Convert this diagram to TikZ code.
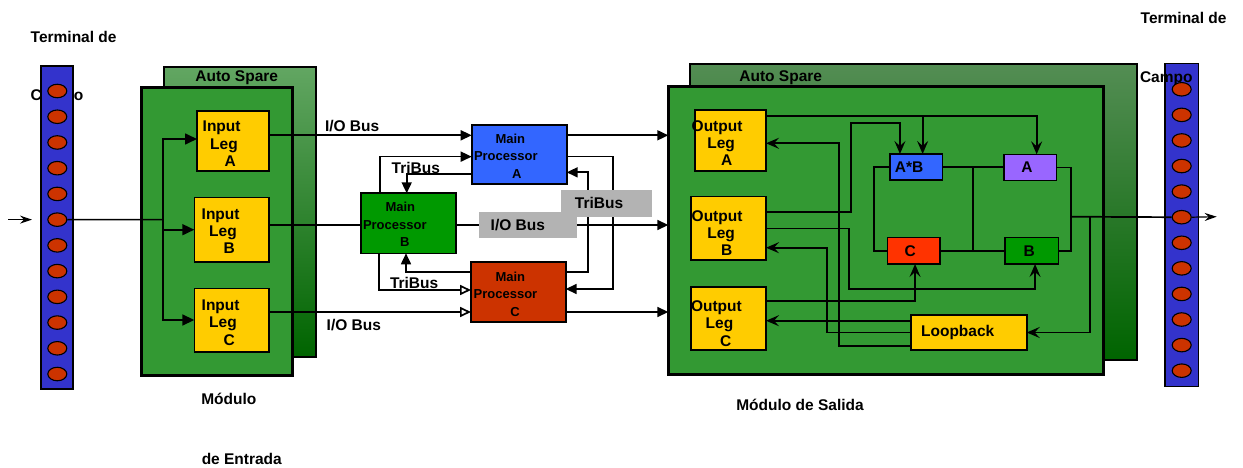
\documentclass[tikz,border=0pt]{standalone}
\usepackage{fontspec}
\setmainfont{Liberation Sans}
\usetikzlibrary{arrows.meta,calc,shapes.geometric}

\definecolor{stripblue}{HTML}{3333CC}
\definecolor{pin}{HTML}{CC3300}
\definecolor{modgreen}{HTML}{339933}
\definecolor{sparetop}{HTML}{62A662}
\definecolor{sparebot}{HTML}{006400}
\definecolor{legyellow}{HTML}{FFCC00}
\definecolor{procblue}{HTML}{3366FF}
\definecolor{procgreen}{HTML}{009900}
\definecolor{procred}{HTML}{CC3300}
\definecolor{gatepurple}{HTML}{9966FF}
\definecolor{gatered}{HTML}{FF3300}
\definecolor{labelgray}{HTML}{B3B3B3}

\begin{document}
\begin{tikzpicture}[x=1pt,y=-1pt,
  line width=1.7pt,
  font=\fontsize{15.5}{17.2}\selectfont\bfseries,
  boxst/.style={draw=black, line width=1.6pt, inner sep=0pt, outer sep=0pt},
  modst/.style={boxst, line width=3pt, fill=modgreen},
  sparest/.style={boxst, line width=2pt, top color=sparetop, bottom color=sparebot},
  legst/.style={boxst, fill=legyellow},
  gatest/.style={boxst, line width=1.4pt},
  pinst/.style={ellipse, draw=black, line width=1.1pt, fill=pin, minimum width=19pt, minimum height=13.5pt, inner sep=0pt},
  stripst/.style={boxst, line width=1.4pt, fill=stripblue},
  tagst/.style={fill=labelgray, inner sep=0pt, outer sep=0pt},
  lbl/.style={inner sep=0pt, outer sep=0pt, align=left, anchor=west},
  proctxt/.style={lbl, font=\fontsize{13}{17.5}\selectfont\bfseries},
  arrF/.style={-{Triangle[length=11pt,width=10pt]}},
  arrO/.style={-{Triangle[open,length=11pt,width=10pt,fill=white]}},
  arrI/.style={-{Triangle[length=12pt,width=11pt]}},
  arrS/.style={-{Stealth[length=13pt,width=11pt,inset=5pt]}},
  arrT/.style={-{Stealth[length=12pt,width=8pt,inset=4pt]}, line width=1.2pt},
]
\useasboundingbox (0,0) rectangle (1243,468);
\fill[white] (0,0) rectangle (1243,468);

% ---------------- field terminal, input side ----------------
\node[lbl] at (30.7,37) {Terminal de};
\node[lbl] at (30.7,97) {Campo};
\node[stripst, minimum width=32pt, minimum height=323pt] (termL) at (57,227.5) {};
\foreach \i in {1,...,12}
  \node[pinst] (eL\i) at (57.3,{91+(\i-1)*25.73}) {};

% ---------------- input module ----------------
\node[sparest, minimum width=151.4pt, minimum height=290pt] (spareIn) at (240,211.7) {};
\node at (236.7,77.3) {Auto Spare};
\node[modst, minimum width=151.7pt, minimum height=287.3pt] (modIn) at (216.85,231.35) {};
\node[legst, minimum width=71.7pt, minimum height=60pt] (inA) at (232.85,141) {};
\node[legst, minimum width=74.4pt, minimum height=64pt] (inB) at (231.5,229.7) {};
\node[legst, minimum width=74.4pt, minimum height=63.4pt] (inC) at (231.5,320) {};
\node[lbl] at ($(inA.west)+(5.7,2.8)$) {Input\\\hspace*{7.5pt}Leg\\\hspace*{22pt}A};
\node[lbl] at ($(inB.west)+(7.4,1.2)$) {Input\\\hspace*{7.5pt}Leg\\\hspace*{22pt}B};
\node[lbl] at ($(inC.west)+(7.4,2.6)$) {Input\\\hspace*{7.5pt}Leg\\\hspace*{22pt}C};
\node at (228.8,399.3) {Módulo};
\node at (241.8,459.3) {de Entrada};

% input fan-out
\coordinate (feedTail) at (8,219.6);
\coordinate (feedTip) at (32,219.6);
\coordinate (split) at (163.3,219.6);
\draw[arrT] (feedTail) -- (feedTip);
\draw (eL6.east) -- (split);
\draw[arrI] (split) |- ($(inA.west)+(0,-2)$);
\draw[arrI] (split) |- (inB.west);
\draw[arrI] (split) |- (inC.west);

% ---------------- main processors ----------------
\node[boxst, fill=procblue, minimum width=95pt, minimum height=59.3pt] (pA) at (519.2,154.65) {};
\node[boxst, fill=procgreen, minimum width=95pt, minimum height=60pt] (pB) at (408.5,223.3) {};
\node[boxst, fill=procred, minimum width=94.7pt, minimum height=60pt] (pC) at (518.35,291.7) {};
\node[proctxt] at ($(pA.west)+(2.3,1.2)$) {\hspace*{21.5pt}Main\\Processor\\\hspace*{38pt}A};
\node[proctxt] at ($(pB.west)+(2,1.2)$) {\hspace*{22.5pt}Main\\Processor\\\hspace*{37pt}B};
\node[proctxt] at ($(pC.west)+(2.7,2.2)$) {\hspace*{21.8pt}Main\\Processor\\\hspace*{36.6pt}C};

% ---------------- output module ----------------
\node[sparest, minimum width=447pt, minimum height=296pt, top color=sparetop!85!black] (spareOut) at (913.5,212) {};
\node at (780.7,77.7) {Auto Spare};
\node[modst, minimum width=435pt, minimum height=287.8pt] (modOut) at (885.8,230.6) {};
\node[legst, minimum width=71pt, minimum height=61pt] (oA) at (730.5,140.5) {};
\node[legst, minimum width=75pt, minimum height=63.3pt] (oB) at (728.5,228.35) {};
\node[legst, minimum width=75.3pt, minimum height=63.3pt] (oC) at (728.35,318.35) {};
\node[lbl] at ($(oA.west)+(-3.3,2.3)$) {Output\\\hspace*{15.6pt}Leg\\\hspace*{29.3pt}A};
\node[lbl] at ($(oB.west)+(0.7,4.5)$) {Output\\\hspace*{15.6pt}Leg\\\hspace*{29.3pt}B};
\node[lbl] at ($(oC.west)+(0.3,5.3)$) {Output\\\hspace*{14.7pt}Leg\\\hspace*{29pt}C};

\node[gatest, fill=procblue, minimum width=52.3pt, minimum height=26pt] (ab) at (916.15,167) {A*B\hspace*{14pt}};
\node[gatest, fill=gatepurple, minimum width=52.7pt, minimum height=26.4pt] (la) at (1030.35,167.5) {A\hspace*{7pt}};
\node[gatest, fill=gatered, minimum width=52.7pt, minimum height=26.3pt] (lc) at (913.65,250.85) {C\hspace*{7pt}};
\node[gatest, fill=procgreen, minimum width=53.3pt, minimum height=26.3pt] (lb) at (1031.65,250.85) {B\hspace*{5pt}};
\node[legst, minimum width=116pt, minimum height=35pt] (loop) at (968.7,332.5) {Loopback\hspace*{22pt}};
\node at (800,405) {Módulo de Salida};

% ---------------- field terminal, output side ----------------
\node[lbl] at (1140.7,18.3) {Terminal de};
\node[stripst, minimum width=33.3pt, minimum height=323.4pt] (termR) at (1181.65,225) {};
\node[lbl] at (1140,79) {Campo};
\foreach \i in {1,...,12}
  \node[pinst] (eR\i) at (1181.7,{89.3+(\i-1)*25.58}) {};

% ---------------- I/O buses ----------------
\coordinate (busA) at (0,135.3);
\coordinate (busB) at (0,225);
\coordinate (busC) at (0,312);
\draw[arrF] (inA.east |- busA) -- (pA.west |- busA);
\draw[arrF] (pA.east |- busA) -- (modOut.west |- busA);
\draw (inB.east |- busB) -- (pB.west |- busB);
\draw[arrF] (pB.east |- busB) -- (modOut.west |- busB);
\draw[arrO] (inC.east |- busC) -- (pC.west |- busC);
\draw[arrF] (pC.east |- busC) -- (modOut.west |- busC);
\node[lbl] at (325,126) {I/O Bus};
\node[lbl] at (326.7,325) {I/O Bus};

% ---------------- TriBus links ----------------
\coordinate (triR1) at (613.3,220);
\coordinate (triR2) at (588.3,220);
\draw[arrF] ($(pB.north west)+(19,0)$) |- ($(pA.west)+(0,2)$);
\draw[arrF] ($(pA.west)+(0,19.7)$) -| ($(pB.north west)+(45.7,0)$);
\draw[arrO] ($(pB.south west)+(18,0)$) |- ($(pC.west)+(0,-1.7)$);
\draw[arrF] ($(pC.west)+(0,-19.4)$) -| ($(pB.south west)+(45,0)$);
\draw[arrF] ($(pA.east)+(0,2)$) -| (triR1) |- ($(pC.east)+(0,-2.7)$);
\draw[arrF] ($(pC.east)+(0,-19.4)$) -| (triR2) |- ($(pA.east)+(0,17.7)$);
\node[lbl] at (391.7,168.3) {TriBus};
\node[lbl] at (390,283.3) {TriBus};
\node[tagst, minimum width=97.7pt, minimum height=26.6pt] (ioTag) at (527.85,225) {I/O Bus\hspace*{20pt}};
\node[tagst, minimum width=90.7pt, minimum height=26.7pt] (triTag) at (606.35,203.35) {TriBus\hspace*{14.6pt}};

% ---------------- voting logic wiring ----------------
\coordinate (lvlA) at (0,115.8);
\coordinate (kB) at (851,122.7);
\coordinate (kB2) at (849,289);
\coordinate (lvlC) at (0,301);
\coordinate (lvlL1) at (0,320.7);
\coordinate (kL2) at (827.3,247.7);
\coordinate (kL3) at (839,143.3);
\coordinate (lvlL3) at (0,346);
\coordinate (kAC) at (874.3,210);
\coordinate (kMid) at (972.7,0);
\coordinate (kR) at (1071,216.7);
\coordinate (kFeed) at (1090,216.7);
\coordinate (outTip) at (1216.7,216.7);

\draw[arrS] (oA.east |- lvlA) -| ($(la.north)+(6.3,0)$);
\draw[arrS] (oA.east |- lvlA) -| ($(ab.north)+(6.5,0)$);
\draw[arrS] ($(oB.east)+(0,-16.6)$) -| (kB) -| ($(ab.north)+(-16.2,0)$);
\draw[arrS] (oB.east) -| (kB2) -| ($(lb.south)+(3.4,0)$);
\draw[arrS] (oC.east |- lvlC) -| ($(lc.south)+(1.4,0)$);
\draw[arrS] (loop.west |- lvlL1) -- (oC.east |- lvlL1);
\draw[arrS] (loop.west) -| (kL2) -- (oB.east |- kL2);
\draw[arrS] (loop.west |- lvlL3) -| (kL3) -- (oA.east |- kL3);
\draw (ab.west) -| (kAC) |- (lc.west);
\draw (ab.east) -- (la.west |- ab.east);
\draw (lc.east) -- (lb.west);
\draw (ab.east -| kMid) -- (lc.east -| kMid);
\draw (la.east) -| (kR) |- (lb.east);
\draw (kR) -- (eR6.west);
\draw[arrS] (kFeed) |- (loop.east);
\draw[arrT] (eR6.east) -- (outTip);
\end{tikzpicture}
\end{document}
